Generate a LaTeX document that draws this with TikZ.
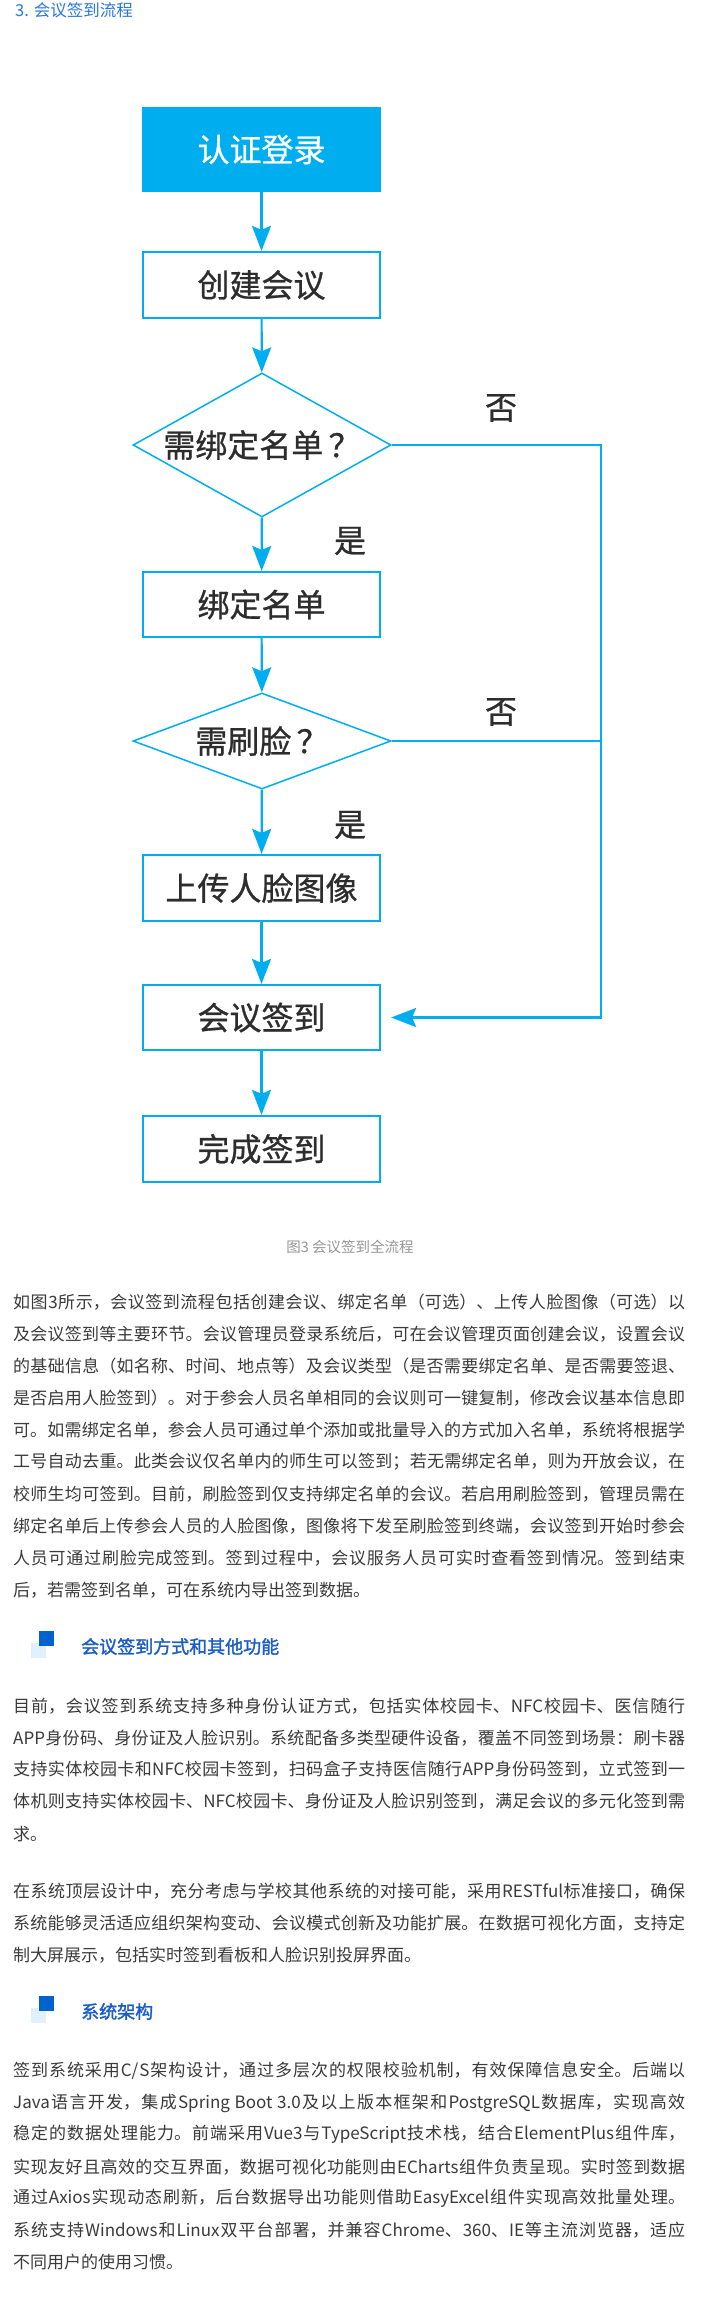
\documentclass[tikz,border=0pt]{standalone}
\usepackage{fontspec}
\setmainfont{Noto Sans CJK SC}
\newfontfamily\hfont[FakeBold=1.6]{Noto Sans CJK SC}
\newfontfamily\ffont[FakeBold=0.8]{Noto Sans CJK SC}
\usetikzlibrary{shapes.geometric,arrows.meta}
\definecolor{flow}{RGB}{0,174,239}
\definecolor{boxtext}{RGB}{45,45,45}
\definecolor{bodyc}{RGB}{58,58,58}
\definecolor{capc}{RGB}{150,150,150}
\definecolor{headc}{RGB}{26,92,200}
\definecolor{titlec}{RGB}{40,120,225}
\definecolor{sqdark}{RGB}{0,98,204}
\definecolor{sqlight}{RGB}{224,240,252}
\XeTeXlinebreaklocale "zh"
\XeTeXlinebreakskip=0pt plus 3pt minus 1pt
\XeTeXlinebreakpenalty=10000
\hyphenpenalty=10000
\newcommand\bodyline[3]{\node[bodytext] (#1) at (13,#2) {\parbox{672pt}{\parfillskip=0pt\relax #3}};}
\newcommand\lastline[3]{\node[bodytext] (#1) at (13,#2) {#3};}
\begin{document}
\begin{tikzpicture}[x=1pt,y=-1pt,
  box/.style={draw=flow, line width=2.2pt, minimum width=237pt, inner sep=0pt,
    font=\ffont\fontsize{32}{36}\selectfont, text=boxtext},
  startbox/.style={box, fill=flow, text=white},
  decision/.style={diamond, draw=flow, line width=1.5pt, inner sep=0pt,
    font=\ffont\fontsize{32}{36}\selectfont, text=boxtext},
  flowline/.style={draw=flow, line width=2.2pt, -{Stealth[length=25pt,width=19pt,inset=4pt]}},
  plainline/.style={draw=flow, line width=2.2pt},
  lbl/.style={font=\ffont\fontsize{32}{36}\selectfont, text=boxtext, inner sep=0pt},
  bodytext/.style={anchor=west, inner sep=0pt, text=bodyc, font=\fontsize{17}{20}\selectfont},
  headtext/.style={anchor=west, inner sep=0pt, text=headc, font=\hfont\fontsize{18}{22}\selectfont},
]
\useasboundingbox (0,0) rectangle (722,2297);
\fill[white] (0,0) rectangle (722,2297);

% title
\node[anchor=west, inner sep=0pt, text=titlec, font=\fontsize{16.5}{20}\selectfont] (title) at (15,10) {3. 会议签到流程};

% flowchart nodes
\node[startbox, minimum height=83pt] (n1) at (261.5,149.5) {认证登录};
\node[box, minimum height=66pt] (n2) at (261.5,285) {创建会议};
\node[decision, minimum width=258pt, minimum height=144pt, aspect=1.79] (d1) at (262,445) {需绑定名单\,？};
\node[box, minimum height=65pt] (n3) at (261.5,604.5) {绑定名单};
\node[decision, minimum width=258pt, minimum height=96pt, aspect=2.69] (d2) at (262,741) {需刷脸\,？};
\node[box, minimum height=66pt] (n4) at (261.5,888) {上传人脸图像};
\node[box, minimum height=65pt] (n5) at (261.5,1017.5) {会议签到};
\node[box, minimum height=66pt] (n6) at (261.5,1149) {完成签到};
\coordinate (rc) at (601,0);

\node[lbl] (no1) at (501,408) {否};
\node[lbl] (yes1) at (350,541) {是};
\node[lbl] (no2) at (501,712) {否};
\node[lbl] (yes2) at (350,825) {是};

% connectors
\draw[flowline] (n1) -- (n2);
\draw[flowline] (n2) -- (d1);
\draw[flowline] (d1) -- (n3);
\draw[flowline] (n3) -- (d2);
\draw[flowline] (d2) -- (n4);
\draw[flowline] (n4) -- (n5);
\draw[flowline] (n5) -- (n6);
\draw[flowline, shorten >=10pt] (d1.east) -- (d1.east -| rc) |- (n5.east);
\draw[plainline] (d2.east) -- (d2.east -| rc);

% caption
\node[inner sep=0pt, text=capc, font=\fontsize{14.5}{18}\selectfont] (cap) at (350,1247) {图3 会议签到全流程};

% paragraph 1
\bodyline{p1a}{1302}{如图3所示，会议签到流程包括创建会议、绑定名单（可选）、上传人脸图像（可选）以}
\bodyline{p1b}{1334}{及会议签到等主要环节。会议管理员登录系统后，可在会议管理页面创建会议，设置会议}
\bodyline{p1c}{1366}{的基础信息（如名称、时间、地点等）及会议类型（是否需要绑定名单、是否需要签退、}
\bodyline{p1d}{1398}{是否启用人脸签到）。对于参会人员名单相同的会议则可一键复制，修改会议基本信息即}
\bodyline{p1e}{1430}{可。如需绑定名单，参会人员可通过单个添加或批量导入的方式加入名单，系统将根据学}
\bodyline{p1f}{1462}{工号自动去重。此类会议仅名单内的师生可以签到；若无需绑定名单，则为开放会议，在}
\bodyline{p1g}{1494}{校师生均可签到。目前，刷脸签到仅支持绑定名单的会议。若启用刷脸签到，管理员需在}
\bodyline{p1h}{1526}{绑定名单后上传参会人员的人脸图像，图像将下发至刷脸签到终端，会议签到开始时参会}
\bodyline{p1i}{1558}{人员可通过刷脸完成签到。签到过程中，会议服务人员可实时查看签到情况。签到结束}
\lastline{p1j}{1590}{后，若需签到名单，可在系统内导出签到数据。}

% heading 1
\fill[sqlight] (31,1643) rectangle (46,1658);
\fill[sqdark] (39,1631) rectangle (54,1646);
\node[headtext] (h1) at (81,1646.5) {会议签到方式和其他功能};

% paragraph 2
\bodyline{p2a}{1706}{目前，会议签到系统支持多种身份认证方式，包括实体校园卡、NFC校园卡、医信随行}
\bodyline{p2b}{1738}{APP身份码、身份证及人脸识别。系统配备多类型硬件设备，覆盖不同签到场景：刷卡器}
\bodyline{p2c}{1769}{支持实体校园卡和NFC校园卡签到，扫码盒子支持医信随行APP身份码签到，立式签到一}
\bodyline{p2d}{1801}{体机则支持实体校园卡、NFC校园卡、身份证及人脸识别签到，满足会议的多元化签到需}
\lastline{p2e}{1834}{求。}

% paragraph 3
\bodyline{p3a}{1891}{在系统顶层设计中，充分考虑与学校其他系统的对接可能，采用RESTful标准接口，确保}
\bodyline{p3b}{1923}{系统能够灵活适应组织架构变动、会议模式创新及功能扩展。在数据可视化方面，支持定}
\lastline{p3c}{1955}{制大屏展示，包括实时签到看板和人脸识别投屏界面。}

% heading 2
\fill[sqlight] (31,2008) rectangle (46,2023);
\fill[sqdark] (39,1996) rectangle (54,2011);
\node[headtext] (h2) at (81,2011.5) {系统架构};

% paragraph 4
\bodyline{p4a}{2071}{签到系统采用C/S架构设计，通过多层次的权限校验机制，有效保障信息安全。后端以}
\bodyline{p4b}{2103}{Java语言开发，集成Spring~Boot~3.0及以上版本框架和PostgreSQL数据库，实现高效}
\bodyline{p4c}{2134}{稳定的数据处理能力。前端采用Vue3与TypeScript技术栈，结合ElementPlus组件库，}
\bodyline{p4d}{2167}{实现友好且高效的交互界面，数据可视化功能则由ECharts组件负责呈现。实时签到数据}
\bodyline{p4e}{2198}{通过Axios实现动态刷新，后台数据导出功能则借助EasyExcel组件实现高效批量处理。}
\bodyline{p4f}{2230}{系统支持Windows和Linux双平台部署，并兼容Chrome、360、IE等主流浏览器，适应}
\lastline{p4g}{2262}{不同用户的使用习惯。}
\end{tikzpicture}
\end{document}
